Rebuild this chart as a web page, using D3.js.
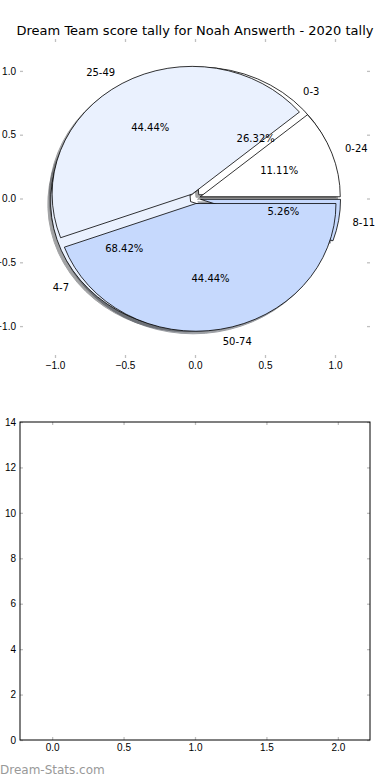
<!DOCTYPE html>
<html>
<head>
<meta charset="utf-8">
<script src="https://cdn.jsdelivr.net/npm/d3@7"></script>
<style>
  html, body { margin: 0; padding: 0; background: #fff; }
  svg { display: block; font-family: "DejaVu Sans", sans-serif; }
</style>
</head>
<body>
<div id="chart"></div>
<script>
const title = "Dream Team score tally for Noah Answerth - 2020 tally";

// outer pie (drawn on top)
const scoreLabels = ["0-24", "25-49", "50-74"];
const scoreCounts = [1, 4, 4];
// inner pie (drawn underneath)
const rankLabels = ["0-3", "4-7", "8-11"];
const rankCounts = [5, 13, 1];

const sliceColors = ["#ffffff", "#eaf1fe", "#c6d9fd"];

const pieTicks = [-1.0, -0.5, 0.0, 0.5, 1.0];
const barXTicks = [0.0, 0.5, 1.0, 1.5, 2.0];
const barYTicks = [0, 2, 4, 6, 8, 10, 12, 14];

const width = 390, height = 780;
const tickColor = "#c0c0c0";

const svg = d3.select("#chart")
  .append("svg")
  .attr("width", width)
  .attr("height", height);

// title
svg.append("text")
  .attr("x", 195)
  .attr("y", 35)
  .attr("text-anchor", "middle")
  .style("font-size", "13px")
  .text(title);

// ---- top axes (pie) ----
const x1 = d3.scaleLinear().domain([-1.25, 1.25]).range([20, 370]);
const y1 = d3.scaleLinear().domain([-1.25, 1.25]).range([358, 39]);

function styleAxis(g) {
  g.select(".domain").remove();
  g.selectAll(".tick line").attr("stroke", tickColor).attr("stroke-width", 1.3);
  g.selectAll(".tick text").style("font-size", "10px").attr("fill", "#000");
}

const fmt1 = d3.format(".1f");

svg.append("g").attr("transform", `translate(0,${y1.range()[0]})`)
  .call(d3.axisBottom(x1).tickValues(pieTicks).tickFormat(fmt1).tickSize(-3).tickPadding(4))
  .call(styleAxis);
svg.append("g").attr("transform", `translate(0,${y1.range()[1]})`)
  .call(d3.axisTop(x1).tickValues(pieTicks).tickFormat("").tickSize(-3))
  .call(styleAxis);
svg.append("g").attr("transform", `translate(${x1.range()[0]},0)`)
  .call(d3.axisLeft(y1).tickValues(pieTicks).tickFormat(fmt1).tickSize(-3).tickPadding(4))
  .call(styleAxis);
svg.append("g").attr("transform", `translate(${x1.range()[1]},0)`)
  .call(d3.axisRight(y1).tickValues(pieTicks).tickFormat("").tickSize(-3))
  .call(styleAxis);

const cx = x1(0), cy = y1(0);
const sx = x1(1) - x1(0), sy = y1(0) - y1(1);
const explode = 0.04;

// matplotlib style: start at 3 o'clock, counter-clockwise
const pie = d3.pie().sort(null)
  .startAngle(Math.PI / 2)
  .endAngle(Math.PI / 2 - 2 * Math.PI);
const arc = d3.arc().innerRadius(0).outerRadius(1);

function dir(d) {
  const mid = (d.startAngle + d.endAngle) / 2;
  return [Math.sin(mid), -Math.cos(mid)];
}

function buildPie(counts, labels) {
  return pie(counts).map((d, i) => ({
    ...d,
    label: labels[i],
    color: sliceColors[i],
    pct: d3.format(".2f")(100 * d.value / d3.sum(counts)) + "%"
  }));
}

const innerSlices = buildPie(rankCounts, rankLabels);
const outerSlices = buildPie(scoreCounts, scoreLabels);
const allSlices = innerSlices.concat(outerSlices);

const pieG = svg.append("g");

function shade(c) {
  const rgb = d3.rgb(c);
  return d3.rgb(rgb.r * 0.3, rgb.g * 0.3, rgb.b * 0.3).toString();
}

// shadows first (below all wedges)
pieG.selectAll(".shadow")
  .data(allSlices)
  .enter()
  .append("path")
  .attr("class", "shadow")
  .attr("transform", d => {
    const [dx, dy] = dir(d);
    return `translate(${cx + sx * (explode * dx - 0.02)},${cy + sy * (explode * dy + 0.02)}) scale(${sx},${sy})`;
  })
  .attr("d", arc)
  .attr("fill", d => shade(d.color))
  .attr("stroke", d => shade(d.color))
  .attr("vector-effect", "non-scaling-stroke")
  .attr("opacity", 0.5);

pieG.selectAll(".wedge")
  .data(allSlices)
  .enter()
  .append("path")
  .attr("class", "wedge")
  .attr("transform", d => {
    const [dx, dy] = dir(d);
    return `translate(${cx + sx * explode * dx},${cy + sy * explode * dy}) scale(${sx},${sy})`;
  })
  .attr("d", arc)
  .attr("fill", d => d.color)
  .attr("stroke", "#000")
  .attr("stroke-width", 0.8)
  .attr("stroke-linejoin", "miter")
  .attr("vector-effect", "non-scaling-stroke");

// labels at 1.1, percentages at 0.6
pieG.selectAll(".label")
  .data(allSlices)
  .enter()
  .append("text")
  .attr("class", "label")
  .attr("x", d => cx + sx * (explode + 1.1) * dir(d)[0])
  .attr("y", d => cy + sy * (explode + 1.1) * dir(d)[1])
  .attr("text-anchor", d => dir(d)[0] > 0 ? "start" : "end")
  .attr("dominant-baseline", "central")
  .style("font-size", "10px")
  .text(d => d.label);

pieG.selectAll(".pct")
  .data(allSlices)
  .enter()
  .append("text")
  .attr("class", "pct")
  .attr("x", d => cx + sx * (explode + 0.6) * dir(d)[0])
  .attr("y", d => cy + sy * (explode + 0.6) * dir(d)[1])
  .attr("text-anchor", "middle")
  .attr("dominant-baseline", "central")
  .style("font-size", "10px")
  .text(d => d.pct);

// ---- bottom axes (empty bar panel) ----
const x2 = d3.scaleLinear().domain([-0.225, 2.225]).range([20, 370]);
const y2 = d3.scaleLinear().domain([0, 14]).range([740, 422]);

svg.append("g").attr("transform", `translate(0,${y2.range()[0]})`)
  .call(d3.axisBottom(x2).tickValues(barXTicks).tickFormat(fmt1).tickSize(-3).tickPadding(4))
  .call(styleAxis);
svg.append("g").attr("transform", `translate(0,${y2.range()[1]})`)
  .call(d3.axisTop(x2).tickValues(barXTicks).tickFormat("").tickSize(-3))
  .call(styleAxis);
svg.append("g").attr("transform", `translate(${x2.range()[0]},0)`)
  .call(d3.axisLeft(y2).tickValues(barYTicks).tickFormat(d3.format("d")).tickSize(-3).tickPadding(4))
  .call(styleAxis);
svg.append("g").attr("transform", `translate(${x2.range()[1]},0)`)
  .call(d3.axisRight(y2).tickValues(barYTicks).tickFormat("").tickSize(-3))
  .call(styleAxis);

svg.append("rect")
  .attr("x", x2.range()[0])
  .attr("y", y2.range()[1])
  .attr("width", x2.range()[1] - x2.range()[0])
  .attr("height", y2.range()[0] - y2.range()[1])
  .attr("fill", "none")
  .attr("stroke", "#000")
  .attr("stroke-width", 1);

// watermark
svg.append("text")
  .attr("x", 0)
  .attr("y", 774)
  .style("font-size", "12px")
  .attr("fill", "#999")
  .text("Dream-Stats.com");
</script>
</body>
</html>
